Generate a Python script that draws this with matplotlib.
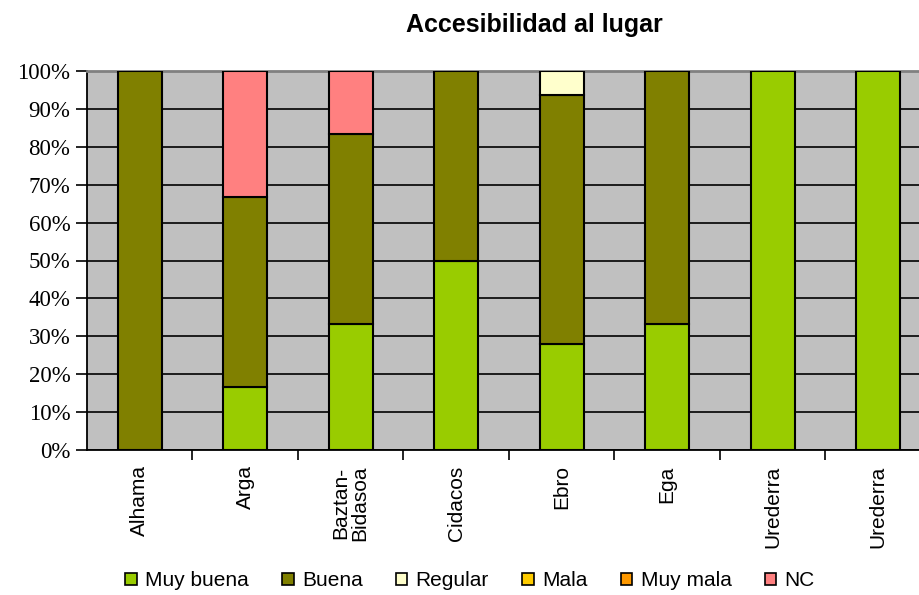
import matplotlib.pyplot as plt
import numpy as np
from matplotlib.patches import Patch

# Datos
rios = ['Alhama', 'Arga', 'Baztan-\nBidasoa', 'Cidacos', 'Ebro', 'Ega', 'Urederra', 'Urederra']
categorias = ['Muy buena', 'Buena', 'Regular', 'Mala', 'Muy mala', 'NC']
muy_buena = [0, 16.7, 33.3, 50, 28.1, 33.3, 100, 100]
buena = [100, 50, 50, 50, 65.6, 66.7, 0, 0]
regular = [0, 0, 0, 0, 6.3, 0, 0, 0]
mala = [0, 0, 0, 0, 0, 0, 0, 0]
muy_mala = [0, 0, 0, 0, 0, 0, 0, 0]
nc = [0, 33.3, 16.7, 0, 0, 0, 0, 0]
colores = ['#99CC00', '#808000', '#FFFFCC', '#FFCC00', '#FF9900', '#FF8080']
ticks_y = [0, 10, 20, 30, 40, 50, 60, 70, 80, 90, 100]

series = [muy_buena, buena, regular, mala, muy_mala, nc]

fig = plt.figure(figsize=(9.2, 5.95), dpi=100)
ax = fig.add_axes([87 / 920, 145 / 595, 844 / 920, 379 / 595])
ax.set_facecolor('#C0C0C0')

x = np.arange(len(rios))
base = np.zeros(len(rios))
for valores, color in zip(series, colores):
    v = np.array(valores, dtype=float)
    mask = v > 0
    ax.bar(x[mask], v[mask], bottom=base[mask], width=0.42, color=color,
           edgecolor='black', linewidth=1.5, zorder=3)
    base += v

# Ejes
ax.set_xlim(-0.5, len(rios) - 0.5)
ax.set_ylim(0, 100)
ax.set_yticks(ticks_y)
ax.set_yticklabels([f'{t}%' for t in ticks_y], fontfamily='Liberation Serif', fontsize=16.5)
ax.yaxis.grid(True, color='black', linewidth=1.2, zorder=1)
ax.set_axisbelow(True)
ax.tick_params(axis='y', length=8, width=1.2, pad=4)

ax.set_xticks(x)
ax.set_xticklabels(rios, rotation=90, fontfamily='Liberation Sans', fontsize=15,
                   linespacing=1.0)
ax.tick_params(axis='x', length=0, pad=11)
ax.set_xticks(np.arange(0.5, len(rios) - 0.5, 1), minor=True)
ax.tick_params(axis='x', which='minor', length=7, width=1.2)

ax.spines['left'].set_linewidth(1.3)
ax.spines['bottom'].set_linewidth(1.3)
ax.spines['top'].set_color('#808080')
ax.spines['top'].set_linewidth(2)
ax.spines['right'].set_visible(False)

fig.text(534 / 920, 1 - 25 / 595, 'Accesibilidad al lugar', ha='center', va='center',
         fontfamily='Liberation Sans', fontweight='bold', fontsize=18)

handles = [Patch(facecolor=c, edgecolor='black', linewidth=1.2) for c in colores]
fig.legend(handles, categorias, loc='center', bbox_to_anchor=(470 / 920, 1 - 581 / 595),
           ncol=6, frameon=False, prop={'family': 'Liberation Sans', 'size': 15},
           handlelength=0.55, handleheight=0.55, handletextpad=0.4, columnspacing=1.6,
           borderpad=0)

fig.savefig('out.png', dpi=100)
